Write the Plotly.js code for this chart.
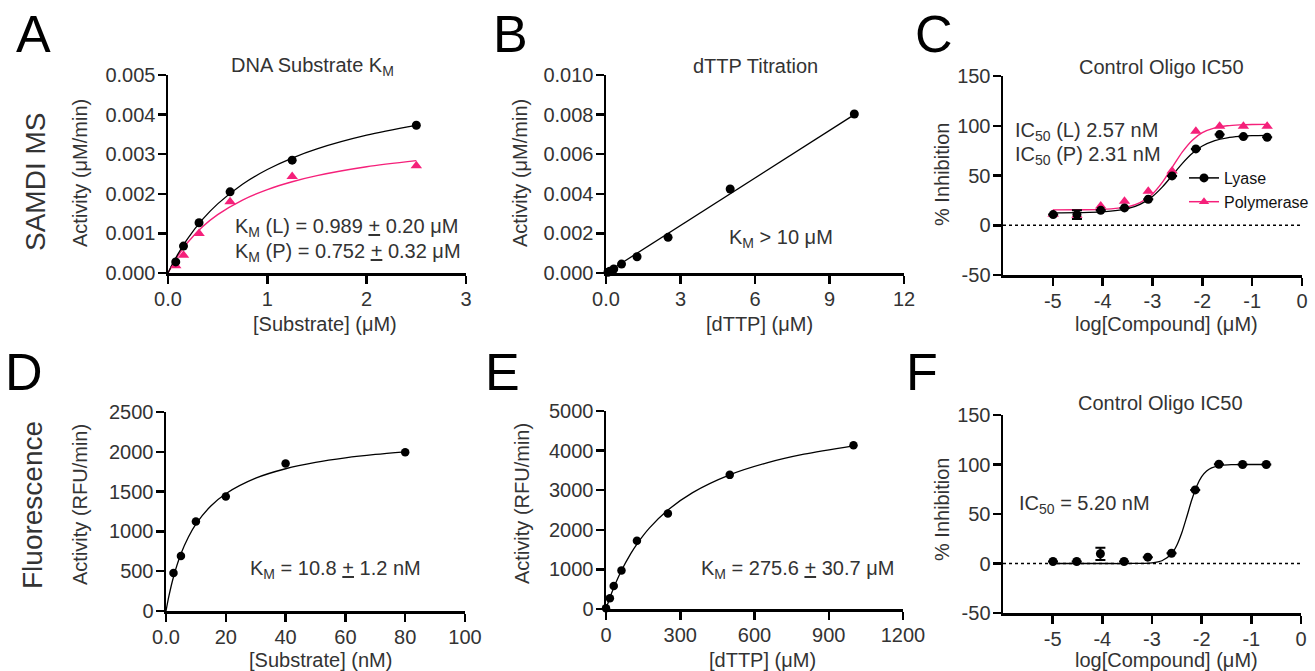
<!DOCTYPE html>
<html>
<head>
<meta charset="utf-8">
<script src="https://cdn.plot.ly/plotly-3.0.1.min.js"></script>
<style>html,body{margin:0;padding:0;background:#fff;overflow:hidden;}#chart{width:1315px;height:671px;}</style>
</head>
<body>
<div id="chart"></div>
<script>
// ---------- DATA ----------
// Panel A: DNA substrate Km (SAMDI MS)
const aX = [0.078, 0.156, 0.3125, 0.625, 1.25, 2.5];
const aLyase = [0.00028, 0.00068, 0.00127, 0.00205, 0.00285, 0.00373];
const aPol = [0.00018, 0.00045, 0.00100, 0.00180, 0.00244, 0.00271];
const aFitX = [0, 0.05, 0.1, 0.2, 0.35, 0.5, 0.75, 1.0, 1.25, 1.5, 2.0, 2.5];
const aFitLyase = [0, 0.00025, 0.000478, 0.000875, 0.001359, 0.001746, 0.002243, 0.002614, 0.002903, 0.003134, 0.003479, 0.003726];
const aFitPol = [0, 0.00023, 0.000433, 0.000775, 0.001172, 0.001474, 0.001843, 0.002106, 0.002304, 0.002458, 0.002682, 0.002837];

// Panel B: dTTP titration (SAMDI MS)
const bX = [0.078, 0.156, 0.3125, 0.625, 1.25, 2.5, 5, 10];
const bY = [0.00004, 0.00009, 0.00020, 0.00045, 0.00082, 0.00180, 0.00424, 0.00803];
const bFitX = [0, 10];
const bFitY = [0, 0.00800];

// Panel C: Control oligo IC50 (SAMDI MS)
const cX = [-4.993, -4.516, -4.039, -3.562, -3.085, -2.607, -2.130, -1.653, -1.176, -0.699];
const cLyase = [10.7, 10.7, 15.0, 17.4, 26.1, 49.6, 76.7, 91.1, 89.1, 88.4];
const cLyaseErr = [0, 4.5, 0, 0, 0, 0, 0, 0, 0, 0];
const cPol = [11.0, 10.0, 19.4, 24.1, 34.2, 54.6, 94.5, 99.5, 99.5, 99.5];
const cFitX = [-5, -4.5, -4, -3.5, -3.25, -3, -2.8, -2.6, -2.4, -2.2, -2, -1.75, -1.5, -1.25, -1, -0.7];
const cFitLyase = [12.5, 12.7, 13.4, 16.6, 21.0, 29.0, 38.6, 50.3, 62.2, 72.3, 79.6, 85.1, 87.9, 89.3, 90.0, 90.3];
const cFitPol = [15.5, 15.6, 16.0, 18.5, 22.7, 31.5, 43.3, 58.5, 73.7, 85.5, 93.0, 97.9, 100.0, 100.9, 101.3, 101.4];

// Panel D: substrate Km (Fluorescence)
const dX = [2.5, 5, 10, 20, 40, 80];
const dY = [477, 690, 1125, 1438, 1852, 1994];
const dFitX = [0, 1, 2.5, 5, 7.5, 10, 15, 20, 30, 40, 50, 60, 70, 80];
const dFitY = [0, 192, 427, 718, 930, 1091, 1320, 1474, 1669, 1787, 1867, 1924, 1967, 2000];

// Panel E: dTTP Km (Fluorescence)
const eX = [0, 15.6, 31.25, 62.5, 125, 250, 500, 1000];
const eY = [20, 269, 580, 975, 1723, 2412, 3387, 4134];
const eFitX = [0, 15.6, 31.25, 62.5, 100, 125, 175, 250, 350, 500, 650, 800, 1000];
const eFitY = [0, 282, 535, 971, 1399, 1640, 2041, 2500, 2940, 3388, 3690, 3909, 4120];

// Panel F: Control oligo IC50 (Fluorescence)
const fX = [-4.993, -4.516, -4.039, -3.562, -3.085, -2.607, -2.130, -1.653, -1.176, -0.699];
const fY = [2.0, 2.0, 9.8, 2.0, 6.4, 10.4, 74.3, 100.2, 100.0, 100.0];
const fErr = [0, 0, 6.2, 0, 0, 0, 0, 0, 0, 0];
const fFitX = [-5, -4, -3.5, -3, -2.8, -2.6, -2.5, -2.4, -2.3, -2.2, -2.1, -2, -1.9, -1.8, -1.6, -1.4, -1, -0.7];
const fFitY = [0, 0, 0, 0.7, 2.8, 10.1, 18.4, 31.0, 47.2, 64.1, 78.1, 87.7, 93.4, 96.6, 99.1, 99.8, 100, 100];

// Tick labels
const aTickVals = [0, 1, 2, 3], aTickText = ['0.0', '1', '2', '3'];
const bTickVals = [0, 3, 6, 9, 12], bTickText = ['0.0', '3', '6', '9', '12'];
const logTickVals = [-5, -4, -3, -2, -1, 0], logTickText = ['-5', '-4', '-3', '-2', '-1', '0'];
const pctTickVals = [-50, 0, 50, 100, 150], pctTickText = ['-50', '0', '50', '100', '150'];
const dTickVals = [0, 20, 40, 60, 80, 100], dTickText = ['0.0', '20', '40', '60', '80', '100'];
const eTickVals = [0, 300, 600, 900, 1200], eTickText = ['0', '300', '600', '900', '1200'];

// ---------- STYLE ----------
const W = 1315, H = 671;
const FONT = 'Liberation Sans, Arial, Helvetica, sans-serif';
const PINK = '#F5207A';
const GRAY = '#333333';
const px = v => v / W;
const py = v => 1 - v / H;

function axis(domainPx, extra, isY) {
  const dom = isY ? [py(domainPx[1]), py(domainPx[0])] : [px(domainPx[0]), px(domainPx[1])];
  return Object.assign({
    domain: dom, showline: true, linecolor: '#000', linewidth: 2.5,
    ticks: 'outside', ticklen: 8, tickwidth: 2.5, tickcolor: '#000',
    ticklabelstandoff: -2,
    showgrid: false, zeroline: false, fixedrange: true, automargin: false,
    tickfont: {family: FONT, size: 20, color: GRAY}
  }, extra);
}

const traces = [];
function pts(x, y, xa, ya, color, symbol, size, err) {
  const t = {x: x, y: y, xaxis: xa, yaxis: ya, type: 'scatter', mode: 'markers', cliponaxis: false,
    marker: {color: color, symbol: symbol, size: size}, showlegend: false};
  if (err) t.error_y = {type: 'data', array: err, visible: true, color: '#000', thickness: 2, width: 5};
  return t;
}
function fit(x, y, xa, ya, color, width) {
  return {x: x, y: y, xaxis: xa, yaxis: ya, type: 'scatter', mode: 'lines', cliponaxis: false,
    line: {color: color, width: width, shape: 'spline', smoothing: 0.8}, showlegend: false, hoverinfo: 'skip'};
}

// Panel A
traces.push(fit(aFitX, aFitPol, 'x', 'y', PINK, 1.4));
traces.push(fit(aFitX, aFitLyase, 'x', 'y', '#000', 1.3));
traces.push(pts(aX, aPol, 'x', 'y', PINK, 'triangle-up', 10));
traces.push(pts(aX, aLyase, 'x', 'y', '#000', 'circle', 9));
// Panel B
traces.push({x: bFitX, y: bFitY, xaxis: 'x2', yaxis: 'y2', type: 'scatter', mode: 'lines', cliponaxis: false,
  line: {color: '#000', width: 1.3}, showlegend: false});
traces.push(pts(bX, bY, 'x2', 'y2', '#000', 'circle', 9));
// Panel C
traces.push(fit(cFitX, cFitPol, 'x3', 'y3', PINK, 1.4));
traces.push(fit(cFitX, cFitLyase, 'x3', 'y3', '#000', 1.3));
traces.push(pts(cX, cPol, 'x3', 'y3', PINK, 'triangle-up', 10));
traces.push(pts(cX, cLyase, 'x3', 'y3', '#000', 'circle', 9, cLyaseErr));
// Legend-only entries for panel C
traces.push({x: [null], y: [null], xaxis: 'x3', yaxis: 'y3', type: 'scatter', mode: 'lines+markers',
  name: 'Lyase', line: {color: '#000', width: 1.5}, marker: {color: '#000', symbol: 'circle', size: 9}, showlegend: true});
traces.push({x: [null], y: [null], xaxis: 'x3', yaxis: 'y3', type: 'scatter', mode: 'lines+markers',
  name: 'Polymerase', line: {color: PINK, width: 1.5}, marker: {color: PINK, symbol: 'triangle-up', size: 9}, showlegend: true});
// Panel D
traces.push(fit(dFitX, dFitY, 'x4', 'y4', '#000', 1.3));
traces.push(pts(dX, dY, 'x4', 'y4', '#000', 'circle', 8.5));
// Panel E
traces.push(fit(eFitX, eFitY, 'x5', 'y5', '#000', 1.3));
traces.push(pts(eX, eY, 'x5', 'y5', '#000', 'circle', 8.5));
// Panel F
traces.push(fit(fFitX, fFitY, 'x6', 'y6', '#000', 1.3));
traces.push(pts(fX, fY, 'x6', 'y6', '#000', 'circle', 9, fErr));

// ---------- ANNOTATIONS ----------
const ann = [];
function txt(text, x, y, size, opts) {
  ann.push(Object.assign({text: text, xref: 'paper', yref: 'paper', x: px(x), y: py(y),
    xanchor: 'center', yanchor: 'middle', showarrow: false,
    font: {family: FONT, size: size, color: GRAY}}, opts || {}));
}
// panel letters
[['A', 14, 34], ['B', 491, 34], ['C', 913, 34], ['D', 3, 372], ['E', 483, 372], ['F', 904, 372]].forEach(l => {
  txt(l[0], l[1], l[2], 52, {xanchor: 'left', font: {family: FONT, size: 52, color: '#000'}});
});
// row labels
txt('SAMDI MS', 35, 182, 28, {textangle: -90});
txt('Fluorescence', 32, 505, 28, {textangle: -90});
// subplot titles
txt('DNA Substrate K<sub>M</sub>', 312, 66, 20);
txt('dTTP Titration', 755, 66, 20);
txt('Control Oligo IC50', 1161, 67, 20);
txt('Control Oligo IC50', 1160, 403, 20);
// axis titles
txt('Activity (μM/min)', 80, 173, 20, {textangle: -90});
txt('Activity (μM/min)', 520, 173, 20, {textangle: -90});
txt('% Inhibition', 942, 175, 20, {textangle: -90});
txt('Activity (RFU/min)', 80, 505, 20, {textangle: -90});
txt('Activity (RFU/min)', 522, 504, 20, {textangle: -90});
txt('% Inhibition', 942, 510, 20, {textangle: -90});
txt('[Substrate] (μM)', 325, 324, 20);
txt('[dTTP] (μM)', 760, 324, 20);
txt('log[Compound] (μM)', 1166, 324, 20);
txt('[Substrate] (nM)', 320, 660, 20);
txt('[dTTP] (μM)', 762, 660, 20);
txt('log[Compound] (μM)', 1166, 660, 20);
// fit result annotations
txt('K<sub>M</sub> (L) = 0.989 <u>+</u> 0.20 μM', 233, 227, 20, {xanchor: 'left'});
txt('K<sub>M</sub> (P) = 0.752 <u>+</u> 0.32 μM', 233, 252, 20, {xanchor: 'left'});
txt('K<sub>M</sub> > 10 μM', 727, 239, 20, {xanchor: 'left'});
txt('IC<sub>50</sub> (L) 2.57 nM', 1013, 131, 20, {xanchor: 'left'});
txt('IC<sub>50</sub> (P) 2.31 nM', 1013, 155, 20, {xanchor: 'left'});
txt('K<sub>M</sub> = 10.8 <u>+</u> 1.2 nM', 248, 569, 20, {xanchor: 'left'});
txt('K<sub>M</sub> = 275.6 <u>+</u> 30.7 μM', 699, 569, 20, {xanchor: 'left'});
txt('IC<sub>50</sub> = 5.20 nM', 1017, 504, 20, {xanchor: 'left'});

// ---------- LAYOUT ----------
const layout = {
  width: W, height: H, margin: {l: 0, r: 0, t: 0, b: 0, autoexpand: false},
  paper_bgcolor: '#fff', plot_bgcolor: 'rgba(0,0,0,0)',
  font: {family: FONT, color: GRAY},
  showlegend: true,
  legend: {x: px(1184), y: py(161), xanchor: 'left', yanchor: 'top', bgcolor: 'rgba(0,0,0,0)',
    font: {family: FONT, size: 16, color: '#111'}, itemclick: false, itemdoubleclick: false},
  xaxis: axis([168, 466], {anchor: 'y', range: [0, 3], tickvals: aTickVals, ticktext: aTickText}),
  yaxis: axis([75, 273], {anchor: 'x', range: [0, 0.005], dtick: 0.001, tickformat: '.3f'}, true),
  xaxis2: axis([606, 904], {anchor: 'y2', range: [0, 12], tickvals: bTickVals, ticktext: bTickText}),
  yaxis2: axis([75, 273], {anchor: 'x2', range: [0, 0.010], dtick: 0.002, tickformat: '.3f'}, true),
  xaxis3: axis([1003, 1302], {anchor: 'y3', range: [-6, 0], tickvals: logTickVals, ticktext: logTickText}),
  yaxis3: axis([76, 275], {anchor: 'x3', range: [-50, 150], tickvals: pctTickVals, ticktext: pctTickText}, true),
  xaxis4: axis([166, 465], {anchor: 'y4', range: [0, 100], tickvals: dTickVals, ticktext: dTickText}),
  yaxis4: axis([412, 611], {anchor: 'x4', range: [0, 2500], dtick: 500}, true),
  xaxis5: axis([606, 903], {anchor: 'y5', range: [0, 1200], tickvals: eTickVals, ticktext: eTickText}),
  yaxis5: axis([411, 609], {anchor: 'x5', range: [0, 5000], dtick: 1000}, true),
  xaxis6: axis([1003, 1301], {anchor: 'y6', range: [-6, 0], tickvals: logTickVals, ticktext: logTickText}),
  yaxis6: axis([415, 613], {anchor: 'x6', range: [-50, 150], tickvals: pctTickVals, ticktext: pctTickText}, true),
  shapes: [
    {type: 'line', xref: 'x3', yref: 'y3', x0: -6, x1: 0, y0: 0, y1: 0, line: {color: '#000', width: 1.5, dash: 'dot'}, layer: 'below'},
    {type: 'line', xref: 'x6', yref: 'y6', x0: -6, x1: 0, y0: 0, y1: 0, line: {color: '#000', width: 1.5, dash: 'dot'}, layer: 'below'}
  ],
  annotations: ann
};

Plotly.newPlot('chart', traces, layout, {staticPlot: true, displayModeBar: false});
</script>
</body>
</html>
